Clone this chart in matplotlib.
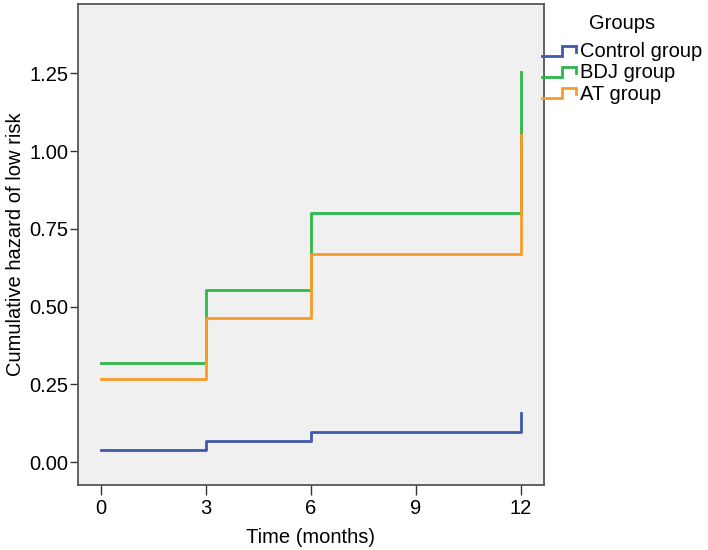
import matplotlib
matplotlib.use("Agg")
import matplotlib.pyplot as plt
from matplotlib.legend_handler import HandlerBase
from matplotlib.lines import Line2D

plt.rcParams['font.family'] = ['Liberation Sans', 'DejaVu Sans']

months = [0, 3, 6, 12]
groups = ['Control group', 'BDJ group', 'AT group']
control = [0.039, 0.068, 0.097, 0.157]
bdj = [0.318, 0.553, 0.800, 1.256]
at = [0.267, 0.462, 0.669, 1.052]
colors = ['#3e58ac', '#2eb848', '#fb9a26']
yticks = [0.00, 0.25, 0.50, 0.75, 1.00, 1.25]
xticks = [0, 3, 6, 9, 12]


class StepHandler(HandlerBase):
    # small step-shaped legend key like SPSS draws
    def create_artists(self, legend, orig_handle, xdescent, ydescent,
                       width, height, fontsize, trans):
        x0, w = -xdescent, width
        lo = -ydescent + height * 0.1
        hi = -ydescent + height * 0.8
        xs = [x0, x0 + w * 0.55, x0 + w * 0.55, x0 + w * 0.95, x0 + w * 0.95]
        ys = [lo, lo, hi, hi, lo + (hi - lo) * 0.45]
        ln = Line2D(xs, ys, color=orig_handle.get_color(), lw=2,
                    solid_joinstyle='miter', transform=trans)
        return [ln]


fig = plt.figure(figsize=(7.08, 5.5), dpi=100)
ax = fig.add_axes([0.110, 0.118, 0.658, 0.875])
ax.set_facecolor('#f0f0f0')

handles = []
for vals, c, name in zip([control, bdj, at], colors, groups):
    h, = ax.step(months, vals, where='post', color=c, lw=2, label=name)
    handles.append(h)

ax.set_xlim(-0.66, 12.66)
ax.set_ylim(-0.074, 1.474)
ax.set_xticks(xticks)
ax.set_yticks(yticks)
ax.set_yticklabels(['%.2f' % v for v in yticks])

for s in ax.spines.values():
    s.set_color('#555555')
    s.set_linewidth(1.3)

ax.tick_params(axis='x', length=7, width=1, color='#333333', pad=3, labelsize=14.5)
ax.tick_params(axis='y', length=6, width=1, color='#333333', pad=1, labelsize=14.5)

ax.set_xlabel('Time (months)', fontsize=14.5, labelpad=7)
ax.set_ylabel('Cumulative hazard of low risk', fontsize=14.5, labelpad=3)

leg = fig.legend(handles, groups, loc='upper left', bbox_to_anchor=(0.766, 0.975),
                 frameon=False, title='Groups', fontsize=14.5, title_fontsize=14.5,
                 handler_map={Line2D: StepHandler()},
                 handlelength=1.75, handletextpad=0.1, labelspacing=0.1,
                 borderpad=0, borderaxespad=0)
leg._legend_box.sep = 7

fig.savefig('out.png', dpi=100)
